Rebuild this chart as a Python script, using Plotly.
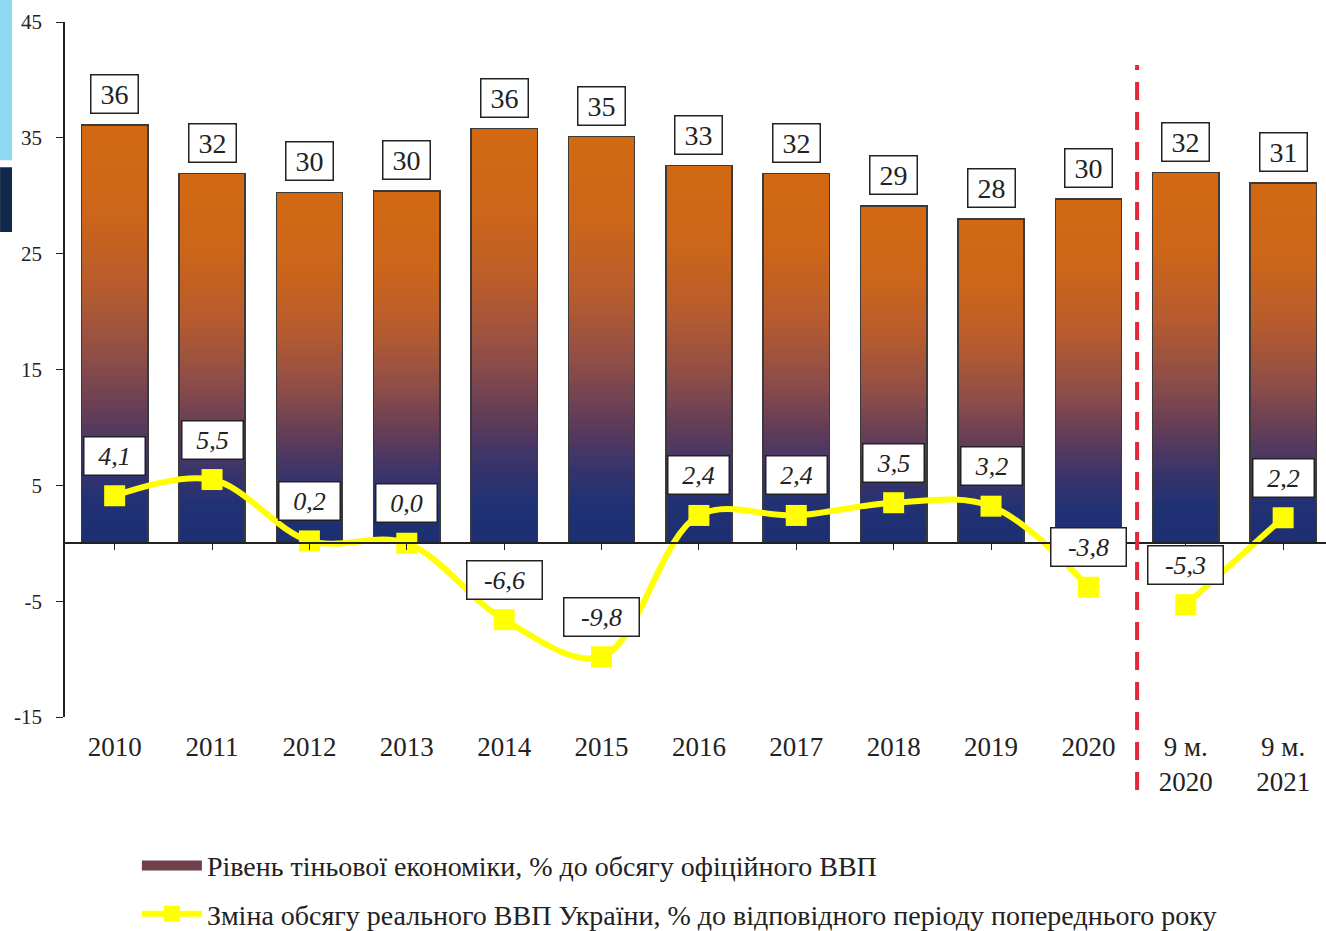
import plotly.graph_objects as go

# ---------------- data ----------------
categories = ['2010', '2011', '2012', '2013', '2014', '2015', '2016', '2017',
              '2018', '2019', '2020', '9 м.<br>2020', '9 м.<br>2021']
shadow_economy = [36.1, 31.9, 30.3, 30.4, 35.8, 35.1, 32.6, 31.9, 29.1, 28.0, 29.7, 32.0, 31.1]
real_gdp_change = [4.1, 5.5, 0.2, 0.0, -6.6, -9.8, 2.4, 2.4, 3.5, 3.2, -3.8, -5.3, 2.2]
y_ticks = [-15, -5, 5, 15, 25, 35, 45]
break_after = 10  # line is interrupted between "2020" and "9 м. 2020"

name_bars = 'Рівень тіньової економіки, % до обсягу офіційного ВВП'
name_line = 'Зміна обсягу реального ВВП України, % до відповідного періоду попереднього року'

# ---------------- style ----------------
SERIF = 'Liberation Serif, Times New Roman, serif'
TXT = '#222222'
YELLOW = '#FFFF00'
grad_stops = [
    (0.00, (28, 47, 114)),
    (0.10, (32, 49, 116)),
    (0.20, (60, 52, 105)),
    (0.30, (95, 60, 90)),
    (0.45, (145, 78, 70)),
    (0.62, (185, 92, 45)),
    (0.80, (205, 102, 25)),
    (1.00, (210, 105, 18)),
]


def grad_color(t):
    for (t0, c0), (t1, c1) in zip(grad_stops[:-1], grad_stops[1:]):
        if t0 <= t <= t1:
            f = (t - t0) / (t1 - t0)
            c = [round(a + (b - a) * f) for a, b in zip(c0, c1)]
            return 'rgb(%d,%d,%d)' % tuple(c)
    return 'rgb(%d,%d,%d)' % grad_stops[-1][1]


fig = go.Figure()

# gradient bars: each bar stacked from N equal slices
N = 70
for k in range(N):
    fig.add_trace(go.Bar(
        x=categories, y=[v / N for v in shadow_economy],
        marker=dict(color=grad_color((k + 0.5) / N), line=dict(width=0)),
        showlegend=False, hoverinfo='skip', xaxis='x', yaxis='y'))

# outline of bars (overlay subplot)
fig.add_trace(go.Bar(
    x=categories, y=shadow_economy,
    marker=dict(color='rgba(0,0,0,0)', line=dict(color='#3a3a3a', width=1.5)),
    showlegend=False, hoverinfo='skip', xaxis='x2', yaxis='y'))

# legend entry for bars (thick line gives a wide rectangular swatch)
fig.add_trace(go.Scatter(
    x=[None], y=[None], name=name_bars, mode='lines',
    line=dict(color='#6e4049', width=14),
    legendgroup='a', legendrank=1, xaxis='x2', yaxis='y'))

# GDP line, in two pieces
line_style = dict(color=YELLOW, width=6, shape='spline', smoothing=1.0)
marker_style = dict(symbol='square', size=21, color=YELLOW)
fig.add_trace(go.Scatter(
    x=categories[:break_after + 1], y=real_gdp_change[:break_after + 1],
    mode='lines+markers', line=line_style, marker=marker_style,
    name=name_line, legendgroup='b', legendrank=2, xaxis='x2', yaxis='y'))
fig.add_trace(go.Scatter(
    x=categories[break_after + 1:], y=real_gdp_change[break_after + 1:],
    mode='lines+markers', line=line_style, marker=marker_style,
    showlegend=False, legendgroup='b', xaxis='x2', yaxis='y'))

annotations = []
for i, v in enumerate(shadow_economy):
    annotations.append(dict(
        x=i, y=v, xref='x', yref='y', text=str(round(v)), showarrow=False,
        yshift=31, font=dict(family=SERIF, size=28, color=TXT),
        bgcolor='white', bordercolor='#222', borderwidth=1.5, borderpad=3,
        width=40))
for i, v in enumerate(real_gdp_change):
    lbl = ('%.1f' % v).replace('.', ',')
    annotations.append(dict(
        x=i, y=v, xref='x', yref='y', text='<i>%s</i>' % lbl, showarrow=False,
        yshift=40, font=dict(family=SERIF, size=26, color=TXT),
        bgcolor='white', bordercolor='#222', borderwidth=1.5, borderpad=4,
        width=14 * len(lbl) + 10))

xr = [-0.51, 12.44]
fig.update_layout(
    width=1326, height=931,
    margin=dict(l=65, r=0, t=22, b=214, autoexpand=False),
    paper_bgcolor='white', plot_bgcolor='white',
    barmode='stack', bargap=0.32,
    hovermode=False,
    xaxis=dict(type='category', categoryorder='array', categoryarray=categories,
               range=xr, showline=False, showgrid=False, zeroline=False, ticks='',
               automargin=False,
               tickfont=dict(family=SERIF, size=27, color=TXT), ticklabelstandoff=11),
    xaxis2=dict(type='category', categoryorder='array', categoryarray=categories,
                range=xr, overlaying='x', anchor='free', position=0.25,
                showline=True, linecolor='#222', linewidth=1.5, showgrid=False,
                zeroline=False, ticks='outside', ticklen=6, tickcolor='#222',
                showticklabels=False, automargin=False),
    yaxis=dict(range=[-15, 45], tickvals=y_ticks, ticktext=[str(t) for t in y_ticks],
               showgrid=False, zeroline=False, automargin=False,
               showline=True, linecolor='#222', linewidth=1.5, ticks='outside',
               ticklen=7, tickcolor='#222', ticklabelstandoff=10,
               tickfont=dict(family=SERIF, size=21, color=TXT)),
    legend=dict(orientation='v', x=0.057, y=-0.178, xanchor='left', yanchor='top',
                font=dict(family=SERIF, size=28, color=TXT), bgcolor='rgba(0,0,0,0)',
                traceorder='grouped', tracegroupgap=9, itemwidth=60),
    annotations=annotations,
    shapes=[
        dict(type='line', xref='x', yref='paper', x0=10.5, x1=10.5, y0=-0.105, y1=0.938,
             line=dict(color='#E02A3C', width=4, dash='18px,12px'), layer='above'),
        dict(type='rect', xref='paper', yref='paper', x0=-0.0515, x1=-0.042,
             y0=0.801, y1=1.0317, fillcolor='#8ED8F0', line=dict(width=0)),
        dict(type='rect', xref='paper', yref='paper', x0=-0.0515, x1=-0.042,
             y0=0.698, y1=0.791, fillcolor='#13294B', line=dict(width=0)),
    ],
)

fig.write_html('out.html', config={'displayModeBar': False},
               post_script="document.body.style.margin='0px';")
